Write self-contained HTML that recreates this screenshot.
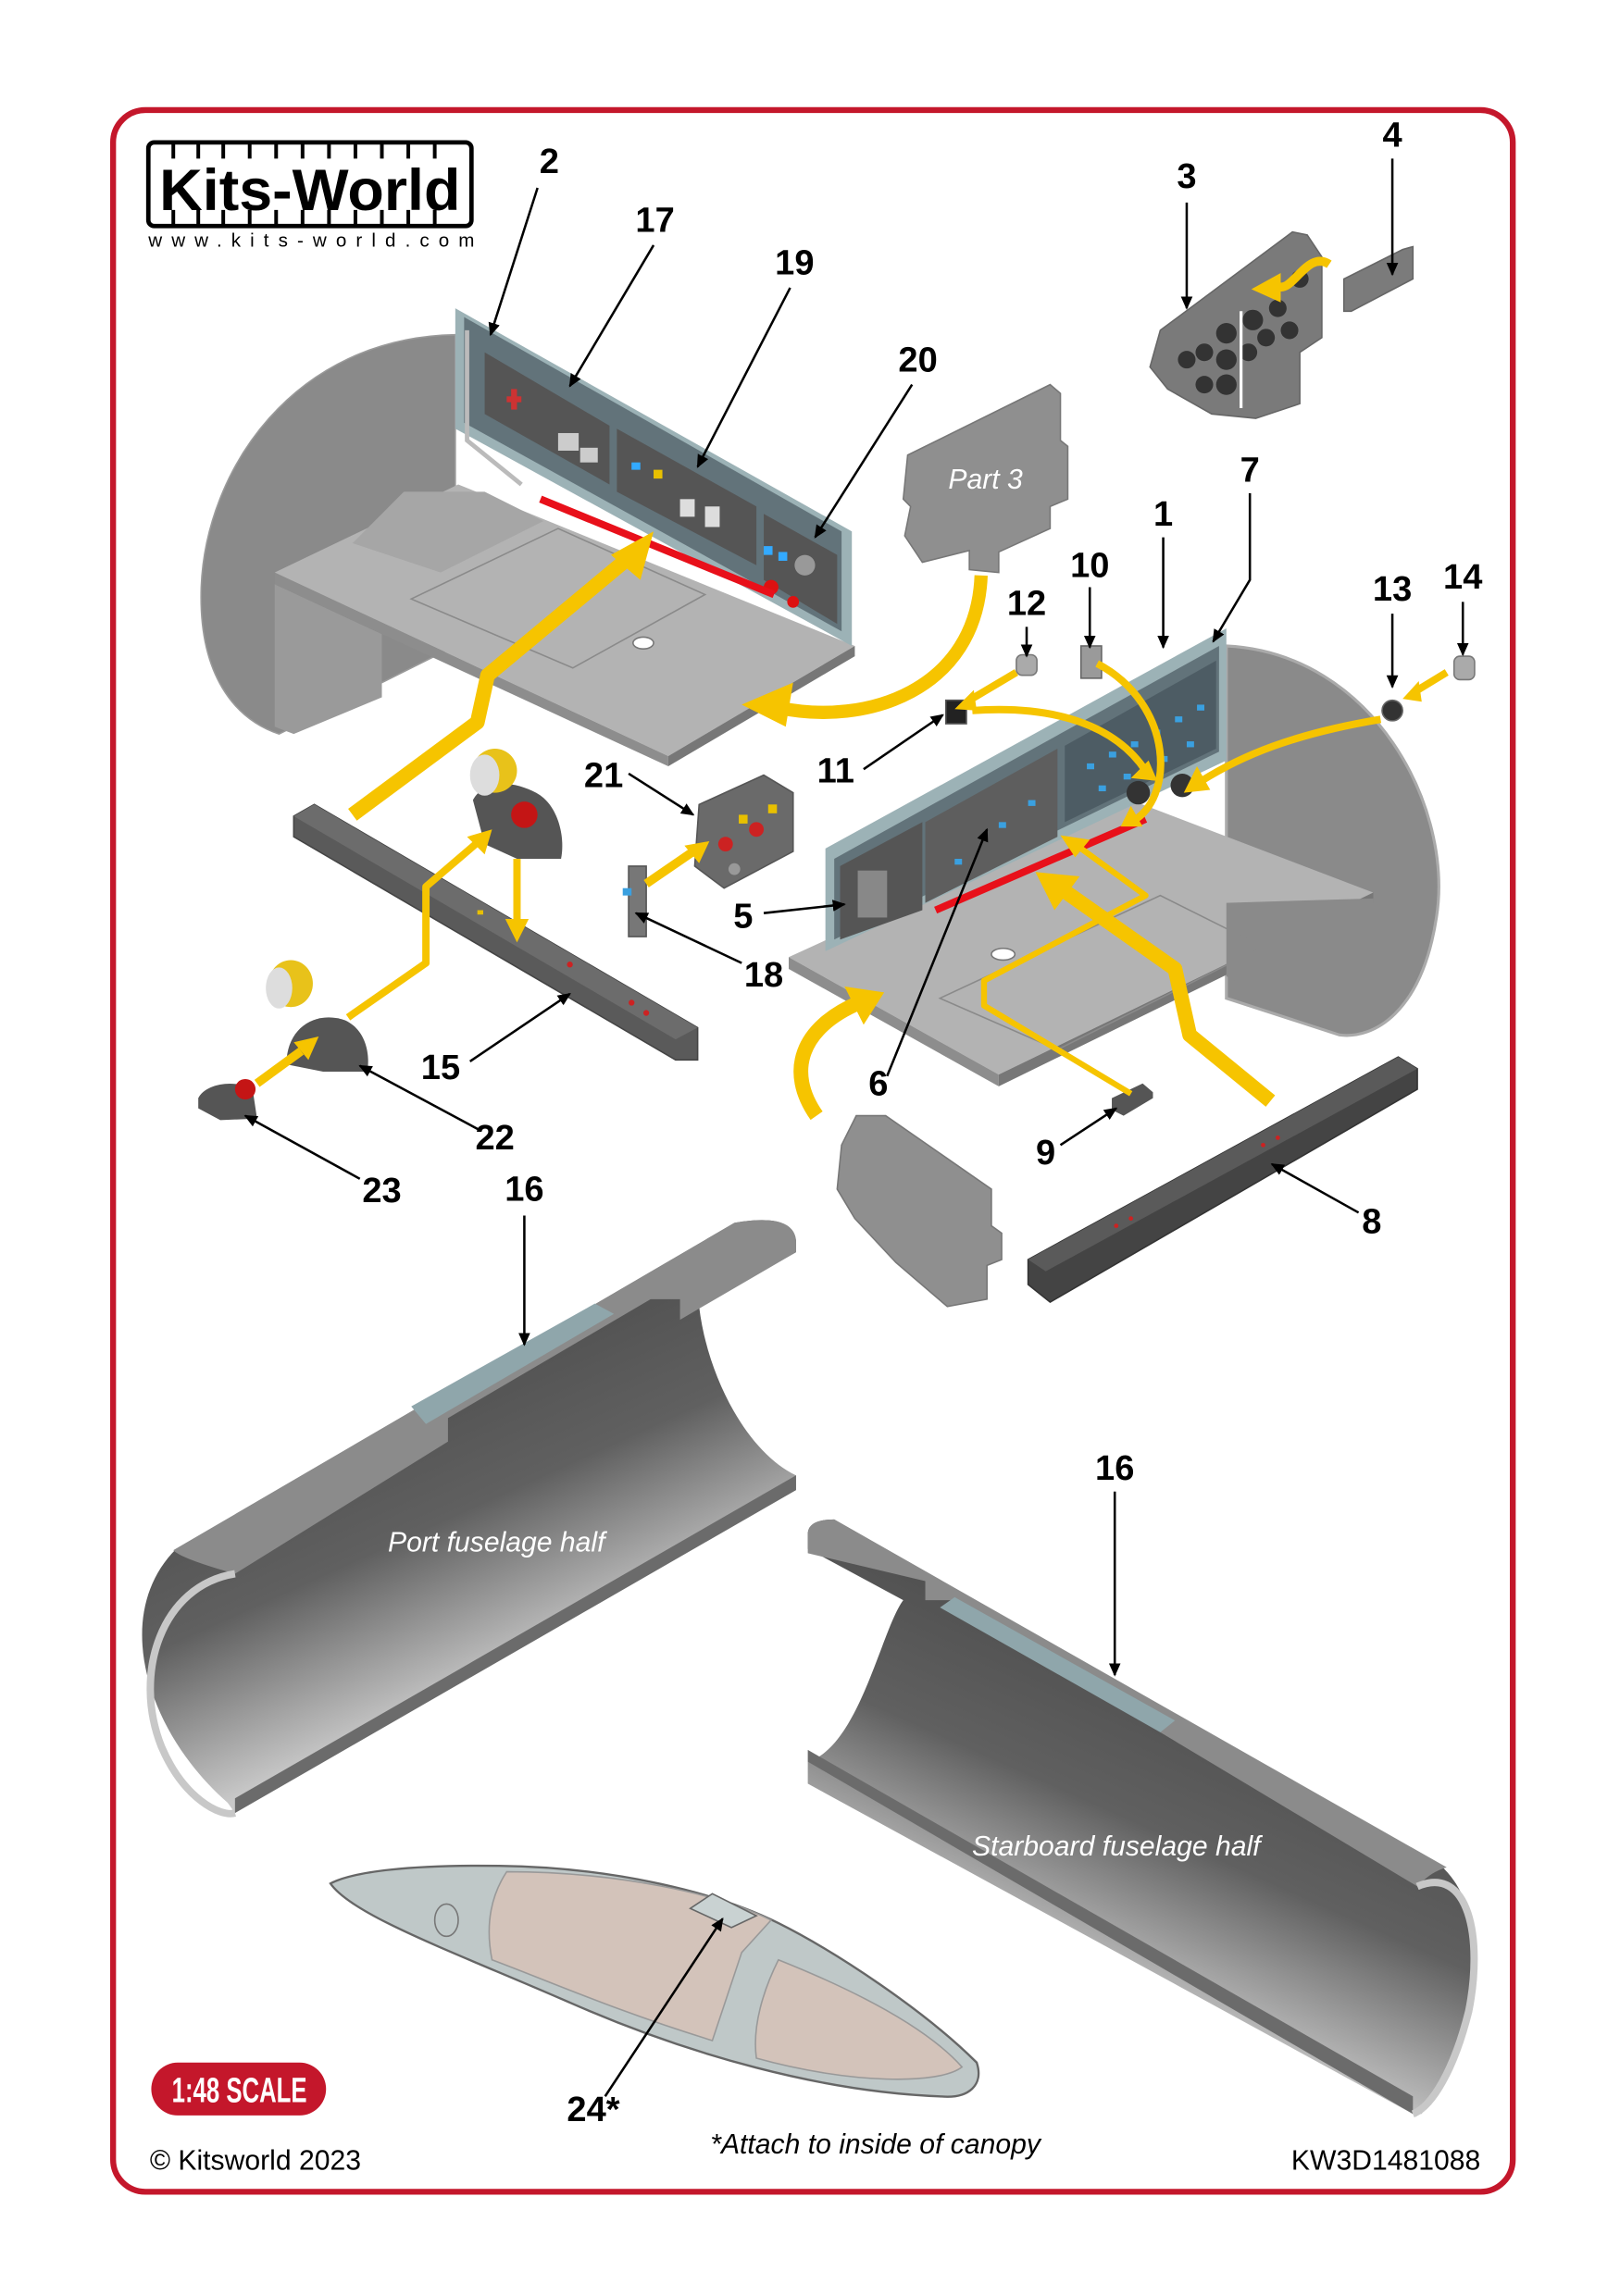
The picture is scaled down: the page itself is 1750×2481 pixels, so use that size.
<!DOCTYPE html>
<html><head><meta charset="utf-8"><style>
html,body{margin:0;padding:0;background:#fff}
svg{display:block}
.n{font-family:"Liberation Sans",sans-serif;font-weight:bold;font-size:24px;fill:#000;text-anchor:middle}
.l{stroke:#000;stroke-width:1.6;fill:none;marker-end:url(#ah)}
.y{stroke:#f6c400;fill:none;stroke-linecap:butt;stroke-linejoin:round}
</style></head><body>
<svg width="1750" height="2481" viewBox="0 0 1103 1564" preserveAspectRatio="none" xmlns="http://www.w3.org/2000/svg">
<defs>
<marker id="ah" markerWidth="10" markerHeight="10" refX="8" refY="5" orient="auto" markerUnits="userSpaceOnUse"><path d="M0,1 L9,5 L0,9 Z" fill="#000"/></marker>
<linearGradient id="fp" x1="0.35" y1="0.25" x2="0.6" y2="0.75"><stop offset="0" stop-color="#4e4e4e"/><stop offset="0.5" stop-color="#606060"/><stop offset="1" stop-color="#c9c9c9"/></linearGradient>
<linearGradient id="fs" x1="0.6" y1="0.25" x2="0.35" y2="0.75"><stop offset="0" stop-color="#4e4e4e"/><stop offset="0.5" stop-color="#606060"/><stop offset="1" stop-color="#c9c9c9"/></linearGradient>
</defs>
<rect x="77" y="75" width="953" height="1418" rx="22" fill="none" stroke="#c4172b" stroke-width="4"/>

<!-- logo -->
<rect x="101" y="97" width="220" height="57" rx="4" fill="#fff" stroke="#000" stroke-width="3"/>
<g stroke="#000" stroke-width="2.5"><path d="M118,97 V108 M135,97 V108 M152,97 V108 M170,97 V108 M188,97 V108 M206,97 V108 M224,97 V108 M242,97 V108 M260,97 V108 M278,97 V108 M296,97 V108 M118,143 V154 M135,143 V154 M152,143 V154 M170,143 V154 M188,143 V154 M206,143 V154 M224,143 V154 M242,143 V154 M260,143 V154 M278,143 V154 M296,143 V154"/></g>
<text x="211" y="143" font-family="Liberation Sans,sans-serif" font-weight="bold" font-size="40" text-anchor="middle" textLength="205" lengthAdjust="spacingAndGlyphs">Kits-World</text>
<text x="212" y="168" font-family="Liberation Sans,sans-serif" font-size="13" text-anchor="middle" textLength="222" lengthAdjust="spacing">www.kits-world.com</text>

<!-- top-left cockpit -->
<path d="M310,228 C200,230 140,320 137,400 C135,460 160,490 190,500 L310,440 Z" fill="#8a8a8a" stroke="#9a9a9a"/>
<path d="M187,390 L312,330 L582,440 L455,515 Z" fill="#b3b3b3"/>
<path d="M187,390 L455,515 L455,522 L187,398 Z" fill="#8d8d8d"/>
<path d="M187,398 L260,432 L260,475 L200,500 L187,495 Z" fill="#9a9a9a"/>
<path d="M455,515 L582,440 L582,447 L455,522 Z" fill="#777"/>
<path d="M275,335 L330,335 L370,355 L300,390 L240,370 Z" fill="#a6a6a6"/>
<path d="M280,408 L380,360 L480,405 L390,455 Z" fill="none" stroke="#8a8a8a"/>
<ellipse cx="438" cy="438" rx="7" ry="4" fill="#fff" stroke="#777"/>
<path d="M310,210 L580,362 L580,440 L310,292 Z" fill="#9cb2b6"/>
<path d="M316,216 L573,362 L573,430 L316,288 Z" fill="#62737a"/>
<path d="M330,240 L415,290 L415,330 L330,282 Z" fill="#555"/>
<path d="M420,292 L515,345 L515,385 L420,335 Z" fill="#555"/>
<path d="M520,350 L570,378 L570,425 L520,395 Z" fill="#555"/>
<rect x="345" y="270" width="10" height="4" fill="#c33"/><rect x="348" y="265" width="4" height="14" fill="#c33"/>
<rect x="380" y="295" width="14" height="12" fill="#ccc"/><rect x="395" y="305" width="12" height="10" fill="#ccc"/>
<rect x="445" y="320" width="6" height="6" fill="#e8c000"/><rect x="430" y="315" width="6" height="5" fill="#3af"/>
<rect x="463" y="340" width="10" height="12" fill="#ddd"/><rect x="480" y="345" width="10" height="14" fill="#ddd"/>
<rect x="520" y="372" width="6" height="6" fill="#3af"/><rect x="530" y="376" width="6" height="6" fill="#3af"/>
<circle cx="525" cy="400" r="5" fill="#d11"/><circle cx="540" cy="410" r="4" fill="#d11"/><circle cx="548" cy="385" r="7" fill="#999"/>
<path d="M318,225 L318,300 L355,330" stroke="#bbb" stroke-width="3" fill="none"/>
<path d="M368,340 L527,405" stroke="#e8101a" stroke-width="5"/>

<!-- Part 3 -->
<path d="M618,310 L715,262 L722,268 L722,300 L727,304 L727,340 L715,345 L715,360 L680,376 L680,390 L660,388 L660,375 L628,383 L616,365 L620,345 L615,340 Z" fill="#8f8f8f" stroke="#777"/>
<text x="671" y="333" font-family="Liberation Sans,sans-serif" font-style="italic" font-size="19" fill="#fff" text-anchor="middle">Part 3</text>

<!-- part 3 instrument panel -->
<path d="M790,225 L880,158 L890,160 L900,175 L900,230 L885,240 L885,275 L855,285 L825,282 L795,265 L783,250 Z" fill="#7a7a7a" stroke="#666"/>
<g fill="#333"><circle cx="808" cy="245" r="6"/><circle cx="820" cy="240" r="6"/><circle cx="835" cy="227" r="7"/><circle cx="853" cy="218" r="7"/><circle cx="835" cy="245" r="7"/><circle cx="850" cy="240" r="6"/><circle cx="820" cy="262" r="6"/><circle cx="835" cy="262" r="7"/><circle cx="870" cy="210" r="6"/><circle cx="878" cy="225" r="6"/><circle cx="862" cy="230" r="6"/><circle cx="885" cy="190" r="6"/></g>
<path d="M845,212 L845,278" stroke="#fff" stroke-width="2"/>
<path d="M915,190 L955,170 L962,168 L962,190 L920,212 L915,212 Z" fill="#7b7b7b" stroke="#666"/>

<!-- right cockpit -->
<path d="M835,440 C935,445 990,550 978,625 C968,690 935,708 912,705 L835,680 Z" fill="#8a8a8a" stroke="#aaa" stroke-width="2"/>
<path d="M537,652 L770,545 L935,608 L680,732 Z" fill="#b3b3b3"/>
<path d="M537,652 L680,732 L680,740 L537,660 Z" fill="#8d8d8d"/>
<path d="M680,732 L935,608 L935,615 L680,740 Z" fill="#777"/>
<path d="M835,615 L935,612 L935,660 L900,700 L835,665 Z" fill="#8a8a8a"/>
<path d="M640,680 L790,610 L860,645 L720,715 Z" fill="none" stroke="#8a8a8a"/>
<ellipse cx="683" cy="650" rx="8" ry="4" fill="#fff" stroke="#777"/>
<path d="M562,578 L835,428 L835,518 L562,648 Z" fill="#9cb2b6"/>
<path d="M568,585 L830,440 L830,512 L568,640 Z" fill="#62737a"/>
<path d="M572,590 L628,560 L628,620 L572,640 Z" fill="#555"/>
<path d="M630,560 L720,510 L720,570 L630,615 Z" fill="#5e5e5e"/>
<path d="M725,508 L828,450 L828,510 L725,560 Z" fill="#4d5c64"/>
<rect x="584" y="593" width="20" height="32" fill="#888"/>
<g fill="#3aa0e0"><rect x="650" y="585" width="5" height="4"/><rect x="680" y="560" width="5" height="4"/><rect x="700" y="545" width="5" height="4"/><rect x="740" y="520" width="5" height="4"/><rect x="755" y="512" width="5" height="4"/><rect x="770" y="505" width="5" height="4"/><rect x="785" y="497" width="5" height="4"/><rect x="800" y="488" width="5" height="4"/><rect x="815" y="480" width="5" height="4"/><rect x="748" y="535" width="5" height="4"/><rect x="765" y="527" width="5" height="4"/><rect x="790" y="515" width="5" height="4"/><rect x="808" y="505" width="5" height="4"/></g>
<circle cx="775" cy="540" r="8" fill="#333"/><circle cx="805" cy="535" r="8" fill="#333"/>
<path d="M637,620 L780,558" stroke="#e8101a" stroke-width="5"/>

<!-- small parts -->
<rect x="692" y="446" width="14" height="14" rx="4" fill="#aaa" stroke="#777"/>
<rect x="736" y="440" width="14" height="22" fill="#9a9a9a" stroke="#666"/>
<rect x="644" y="477" width="14" height="16" fill="#222" stroke="#555"/>
<rect x="990" y="447" width="14" height="16" rx="4" fill="#aaa" stroke="#777"/>
<circle cx="948" cy="484" r="7" fill="#333" stroke="#666"/>
<path d="M476,548 L520,528 L540,540 L540,580 L493,605 L473,590 Z" fill="#6a6a6a" stroke="#555"/>
<circle cx="494" cy="575" r="5" fill="#c22"/><circle cx="515" cy="565" r="5" fill="#c22"/><rect x="503" y="555" width="6" height="6" fill="#e8c000"/><rect x="523" y="548" width="6" height="6" fill="#e8c000"/><circle cx="500" cy="592" r="4" fill="#999"/>
<rect x="428" y="590" width="12" height="48" fill="#777" stroke="#555"/><rect x="424" y="605" width="6" height="5" fill="#3aa0e0"/>
<!-- bar 15 -->
<path d="M200,556 L214,548 L475,700 L475,722 L460,722 L200,570 Z" fill="#5a5a5a" stroke="#444"/>
<path d="M200,556 L214,548 L475,700 L460,708 Z" fill="#6c6c6c"/>
<circle cx="388" cy="657" r="2" fill="#c22"/><circle cx="430" cy="683" r="2" fill="#c22"/><circle cx="440" cy="690" r="2" fill="#c22"/><rect x="325" y="620" width="4" height="3" fill="#e8c000"/>
<!-- lever 22 upper -->
<path d="M322,545 C330,530 350,532 365,540 C380,548 385,570 382,585 L352,585 L330,575 Z" fill="#555"/>
<circle cx="357" cy="555" r="9" fill="#c41515"/>
<ellipse cx="337" cy="525" rx="15" ry="15" fill="#e8c21a"/><ellipse cx="330" cy="528" rx="10" ry="14" fill="#ddd"/>
<!-- lever 22 lower -->
<path d="M195,725 C195,700 215,688 235,695 C250,702 252,720 250,730 L220,730 Z" fill="#555"/>
<ellipse cx="198" cy="670" rx="15" ry="16" fill="#e8c21a"/><ellipse cx="190" cy="673" rx="9" ry="14" fill="#ddd"/>
<!-- part 23 -->
<path d="M135,748 C140,738 160,735 172,742 L175,762 L150,763 L135,755 Z" fill="#555"/>
<circle cx="167" cy="742" r="7" fill="#c41515"/>

<!-- part 9 -->
<path d="M757,748 L778,738 L785,744 L785,748 L765,760 L757,756 Z" fill="#555"/>
<!-- bar 8 -->
<path d="M700,858 L952,720 L965,728 L965,742 L715,887 L700,875 Z" fill="#444" stroke="#333"/>
<path d="M700,858 L952,720 L965,728 L712,866 Z" fill="#5a5a5a"/>
<g fill="#c22"><circle cx="760" cy="835" r="1.5"/><circle cx="770" cy="830" r="1.5"/><circle cx="860" cy="780" r="1.5"/><circle cx="870" cy="775" r="1.5"/></g>
<!-- bottom part -->
<path d="M573,780 L583,760 L603,760 L675,810 L675,835 L682,840 L682,858 L672,862 L672,885 L645,890 L610,860 L582,830 L570,810 Z" fill="#8f8f8f" stroke="#777"/>

<!-- yellow arrows -->
<g class="y">
<path d="M240,555 L325,492 L332,460 L428,380" stroke-width="10"/>
<path d="M668,392 C665,470 590,495 530,482" stroke-width="9"/>
<path d="M905,180 C890,170 880,200 870,195" stroke-width="6"/>
<path d="M237,693 L290,656 L290,604 L325,574" stroke-width="5"/>
<path d="M352,585 L352,628" stroke-width="5"/>
<path d="M175,738 L205,716" stroke-width="6"/>
<path d="M440,602 L472,580" stroke-width="6"/>
<path d="M692,458 L660,477" stroke-width="5"/>
<path d="M662,484 C720,480 760,495 780,525" stroke-width="5"/>
<path d="M747,452 C800,480 800,545 770,560" stroke-width="5"/>
<path d="M985,458 L962,472" stroke-width="5"/>
<path d="M940,490 C880,500 845,515 818,532" stroke-width="5"/>
<path d="M865,750 L810,705 L800,660 L722,605" stroke-width="10"/>
<path d="M770,745 L670,685 L670,668 L780,610 L732,575" stroke-width="4"/>
<path d="M556,760 C535,730 545,700 585,683" stroke-width="10"/>
</g>
<g fill="#f6c400">
<path d="M445,362 L436,395 L416,378 Z"/>
<path d="M505,480 L540,465 L535,495 Z"/>
<path d="M852,197 L872,186 L872,206 Z"/>
<path d="M335,565 L330,582 L318,570 Z"/>
<path d="M352,642 L344,626 L360,626 Z"/>
<path d="M217,706 L210,722 L200,710 Z"/>
<path d="M483,573 L476,588 L466,576 Z"/>
<path d="M650,483 L663,470 L665,484 Z"/>
<path d="M788,532 L770,530 L782,518 Z"/>
<path d="M763,563 L770,549 L778,563 Z"/>
<path d="M955,476 L966,464 L968,478 Z"/>
<path d="M806,540 L815,522 L824,538 Z"/>
<path d="M705,594 L735,597 L718,620 Z"/>
<path d="M722,569 L742,572 L732,584 Z"/>
<path d="M602,676 L588,698 L575,672 Z"/>
</g>

<!-- port fuselage half -->
<path d="M120,1055 L500,833 Q540,826 542,845 L542,853 L476,890 C482,940 510,990 542,1005 L542,1015 L160,1235 L155,1228 C100,1180 75,1100 120,1055 Z" fill="url(#fp)"/>
<path d="M160,1235 L542,1015 L542,1005 L160,1225 Z" fill="#6b6b6b"/>
<path d="M118,1056 L500,833 Q540,826 542,845 L542,853 L463,899 L463,885 L443,885 L305,966 L305,982 L160,1072 C135,1065 122,1060 118,1056 Z" fill="#8b8b8b"/>
<path d="M280,958 L405,888 L418,895 L290,970 Z" fill="#8fa6ab"/>
<path d="M160,1072 C110,1080 90,1140 110,1190 C125,1225 150,1238 160,1235" fill="none" stroke="#c8c8c8" stroke-width="5"/>
<text x="338" y="1057" font-family="Liberation Sans,sans-serif" font-style="italic" font-size="19" fill="#fff" text-anchor="middle">Port fuselage half</text>

<!-- starboard fuselage half -->
<path d="M550,1045 Q550,1035 568,1035 L980,1270 C1015,1300 1010,1370 968,1440 L962,1440 L550,1215 L550,1200 C585,1190 600,1110 615,1090 L550,1055 Z" fill="url(#fs)"/>
<path d="M550,1200 L962,1440 L962,1428 L550,1192 Z" fill="#6b6b6b"/>
<path d="M550,1045 Q550,1035 568,1035 L985,1272 C975,1275 970,1280 965,1285 L885,1237 L790,1180 L790,1170 L650,1090 L630,1090 L630,1077 L550,1058 Z" fill="#8b8b8b"/>
<path d="M650,1088 L800,1172 L790,1180 L640,1095 Z" fill="#8fa6ab"/>
<path d="M965,1285 C1000,1270 1010,1320 1000,1370 C990,1410 975,1435 962,1440" fill="none" stroke="#c8c8c8" stroke-width="5"/>
<text x="760" y="1264" font-family="Liberation Sans,sans-serif" font-style="italic" font-size="19" fill="#fff" text-anchor="middle">Starboard fuselage half</text>

<!-- canopy -->
<path d="M225,1283 C240,1275 280,1270 340,1271 C420,1272 490,1290 530,1310 C570,1330 630,1370 665,1405 C670,1420 660,1430 640,1428 C560,1425 470,1400 390,1365 C310,1330 240,1305 225,1283 Z" fill="#bfc8c8" stroke="#666" stroke-width="1.5"/>
<path d="M345,1275 C420,1275 490,1290 525,1308 L505,1330 L485,1390 C420,1370 375,1350 335,1335 C330,1310 335,1290 345,1275 Z" fill="#d3c3ba" stroke="#999"/>
<path d="M530,1335 C580,1355 630,1380 655,1408 C640,1420 580,1420 515,1402 C512,1380 520,1355 530,1335 Z" fill="#d3c3ba" stroke="#999"/>
<path d="M470,1300 L485,1290 L515,1305 L498,1313 Z" fill="#c9d2d2" stroke="#666"/>
<ellipse cx="304" cy="1308" rx="8" ry="11" fill="none" stroke="#777"/>

<!-- labels and leaders -->
<g class="n">
<text x="374" y="118">2</text><text x="446" y="158">17</text><text x="541" y="187">19</text><text x="625" y="253">20</text>
<text x="808" y="128">3</text><text x="948" y="100">4</text><text x="851" y="328">7</text><text x="792" y="358">1</text>
<text x="742" y="393">10</text><text x="699" y="419">12</text><text x="948" y="409">13</text><text x="996" y="401">14</text>
<text x="411" y="536">21</text><text x="569" y="533">11</text><text x="506" y="632">5</text><text x="520" y="672">18</text>
<text x="300" y="735">15</text><text x="337" y="783">22</text><text x="260" y="819">23</text><text x="598" y="746">6</text>
<text x="712" y="793">9</text><text x="934" y="840">8</text><text x="357" y="818">16</text><text x="759" y="1008">16</text>
<text x="404" y="1445">24*</text>
</g>
<g class="l">
<path d="M366,128 L334,228"/><path d="M445,167 L388,263"/><path d="M538,196 L475,318"/><path d="M621,262 L555,366"/>
<path d="M808,138 L808,210"/><path d="M948,108 L948,187"/><path d="M851,336 L851,395 L826,437"/><path d="M792,366 L792,441"/>
<path d="M742,400 L742,441"/><path d="M699,427 L699,447"/><path d="M948,418 L948,468"/><path d="M996,410 L996,446"/>
<path d="M588,524 L642,487"/><path d="M428,527 L472,555"/><path d="M520,622 L575,616"/><path d="M505,656 L433,622"/>
<path d="M320,723 L388,677"/><path d="M327,770 L245,726"/><path d="M245,803 L167,760"/><path d="M604,733 L672,565"/>
<path d="M722,780 L760,755"/><path d="M925,826 L866,793"/><path d="M357,828 L357,916"/><path d="M759,1016 L759,1141"/>
<path d="M412,1428 L492,1307"/>
</g>

<!-- scale badge -->
<rect x="103" y="1405" width="119" height="36" rx="18" fill="#c4172b"/>
<text x="163" y="1432" font-family="Liberation Sans,sans-serif" font-weight="bold" font-size="24" fill="#fff" text-anchor="middle" textLength="92" lengthAdjust="spacingAndGlyphs">1:48 SCALE</text>

<text x="102" y="1478" font-family="Liberation Sans,sans-serif" font-size="19">© Kitsworld 2023</text>
<text x="596" y="1467" font-family="Liberation Sans,sans-serif" font-style="italic" font-size="19" text-anchor="middle">*Attach to inside of canopy</text>
<text x="1008" y="1478" font-family="Liberation Sans,sans-serif" font-size="19" text-anchor="end">KW3D1481088</text>
</svg>
</body></html>
